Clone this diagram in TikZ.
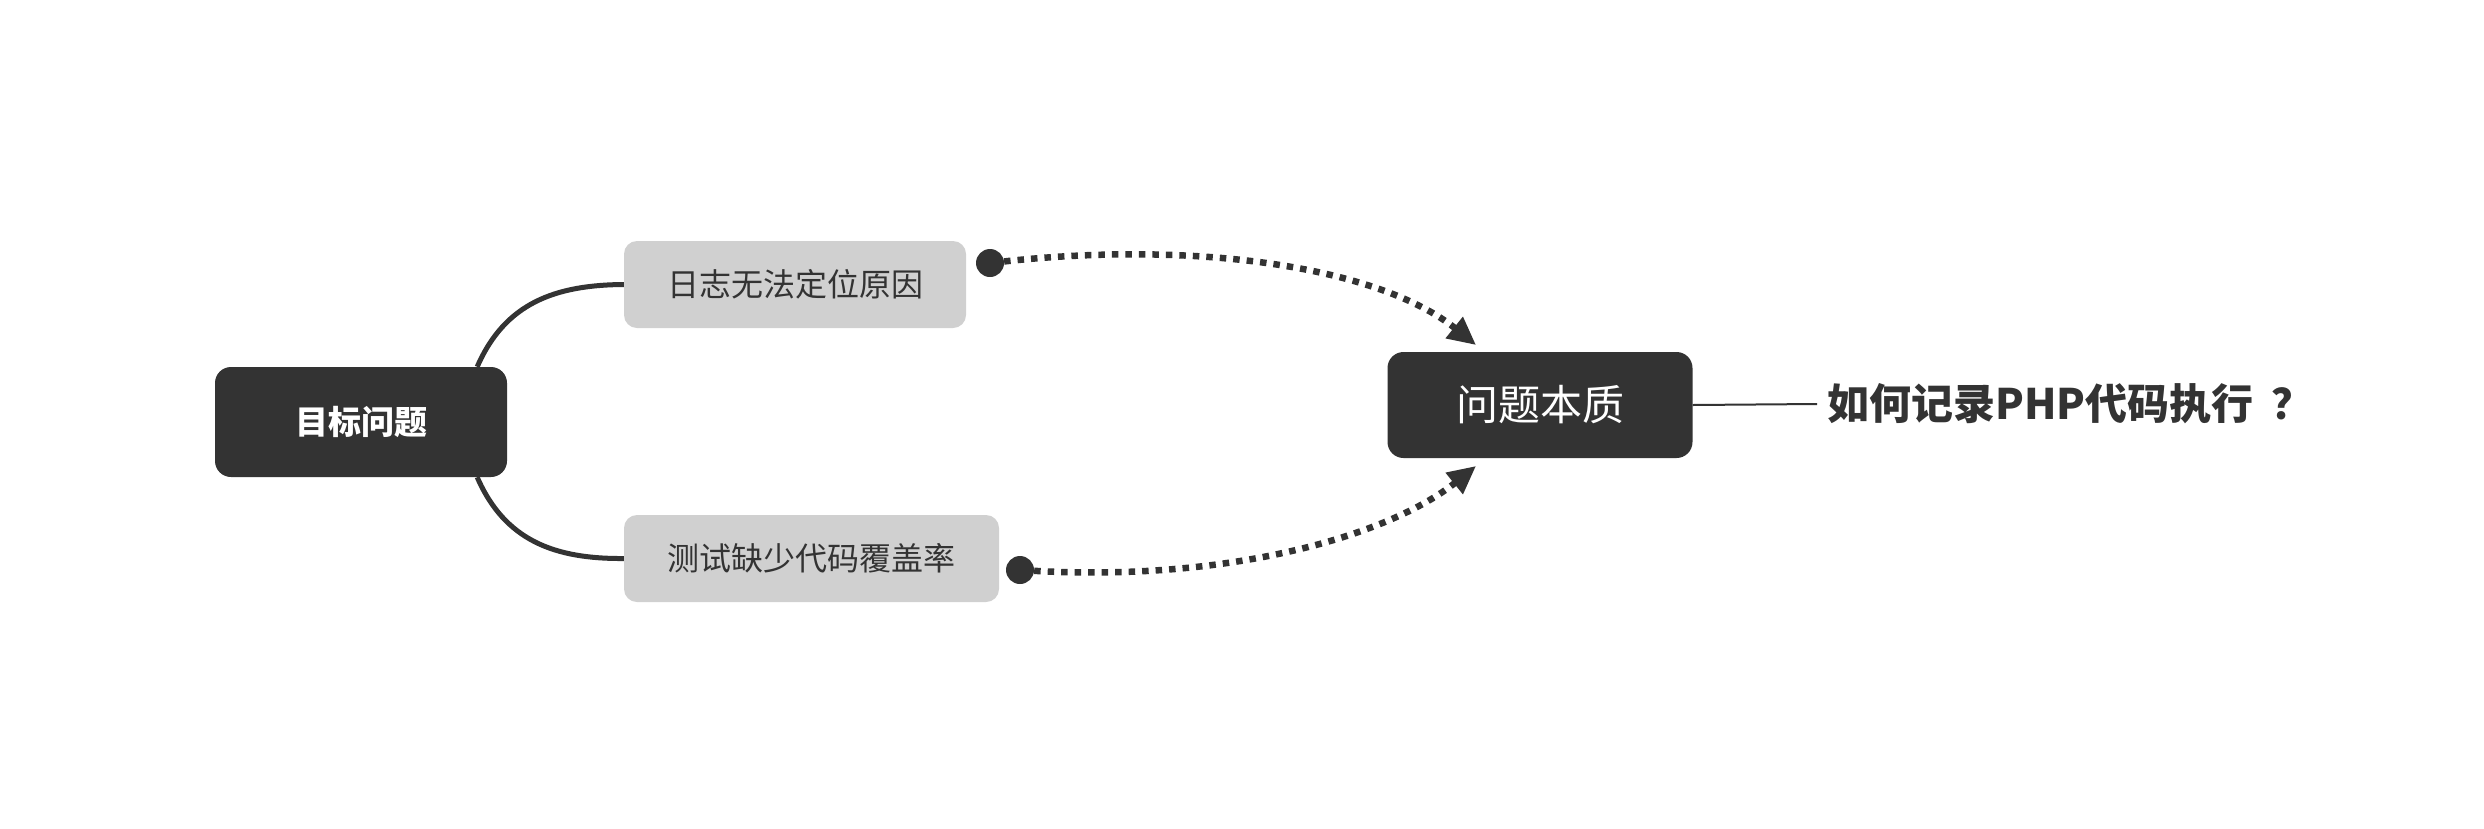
\documentclass[tikz,border=0pt]{standalone}
\usepackage{fontspec}
\newfontfamily\cjk{Noto Sans CJK SC}
\usetikzlibrary{arrows.meta,calc}
\definecolor{dark}{HTML}{333333}
\definecolor{lightg}{HTML}{D0D0D0}
\tikzset{
  darkbox/.style={fill=dark, rounded corners=16pt, text=white, inner sep=0pt},
  greybox/.style={fill=lightg, rounded corners=13pt, text=dark, inner sep=0pt,
    minimum height=87pt, font=\cjk\fontsize{32}{38}\selectfont},
  dotnode/.style={circle, fill=dark, minimum size=28pt, inner sep=0pt},
  branch/.style={draw=dark, line width=5pt},
  dotline/.style={draw=dark, line width=6.5pt, line cap=butt, dash pattern=on 6.5pt off 7pt,
    -{Triangle[length=28pt,width=26pt]}},
}
\begin{document}
\begin{tikzpicture}[x=1pt,y=-1pt]
\useasboundingbox (0,0) rectangle (2484,828);
\node[darkbox, minimum width=292pt, minimum height=110pt,
  font=\cjk\bfseries\fontsize{33}{38}\selectfont] (goal) at (361,422) {目标问题};
\node[greybox, minimum width=342pt] (g1) at (795,284.5) {日志无法定位原因};
\node[greybox, minimum width=375pt] (g2) at (811.5,558.5) {测试缺少代码覆盖率};
\node[darkbox, minimum width=305pt, minimum height=106pt,
  font=\cjk\fontsize{42}{50}\selectfont] (core) at (1540,405) {问题本质};
\node[anchor=west, inner xsep=10pt, inner ysep=0pt, text=dark,
  font=\cjk\bfseries\fontsize{42}{50}\selectfont] (q) at (1817,404) {如何记录PHP代码执行\hspace{18pt}？};
\node[dotnode] (d1) at (990,263) {};
\node[dotnode] (d2) at (1020,570) {};
\coordinate (t1) at (1476,345);
\coordinate (t2) at (1476,466);
\coordinate (s1) at ($(goal.north east)+(-30,0)$);
\coordinate (s2) at ($(goal.south east)+(-30,0)$);
\draw[branch] (s1) .. controls (505,303) and (555,285) .. (g1.west);
\draw[branch] (s2) .. controls (505,541) and (555,559) .. (g2.west);
\draw[dotline] (d1) .. controls (1200,240) and (1380,268) .. (t1);
\draw[dotline] (d2) .. controls (1230,582) and (1390,535) .. (t2);
\draw[draw=dark, line width=2pt] (core.east) -- (q.west);
\end{tikzpicture}
\end{document}
